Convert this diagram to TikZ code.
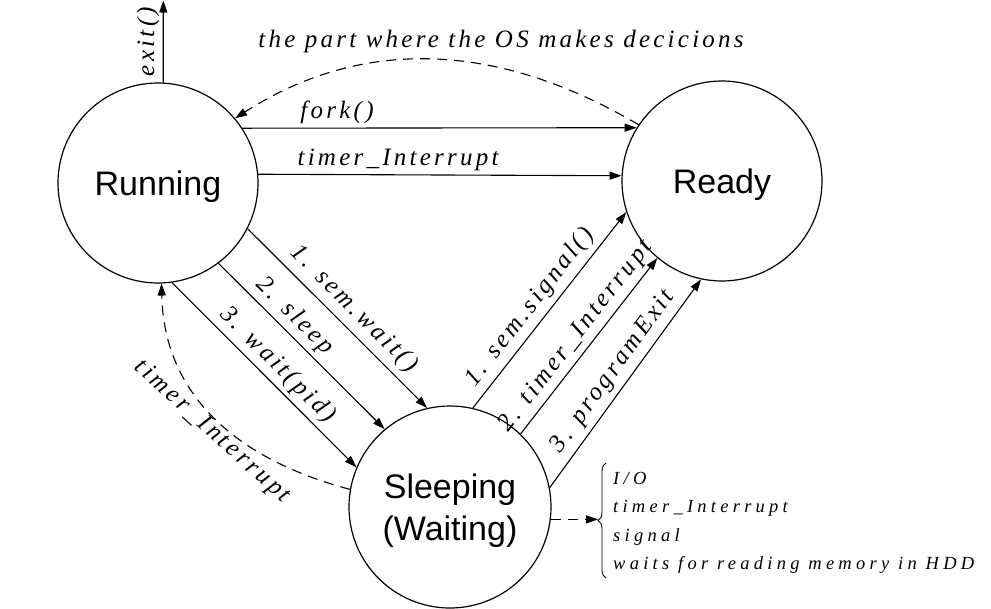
\documentclass[tikz,border=0pt]{standalone}
\usepackage{fontspec}
\setmainfont{Liberation Serif}
\newfontfamily\statefont{Liberation Sans}
\newfontfamily\lblfont[LetterSpace=13]{Liberation Serif Italic}
\newfontfamily\smfont[LetterSpace=23]{Liberation Serif Italic}
\usetikzlibrary{arrows.meta,decorations.pathreplacing,calc}
\begin{document}
\begin{tikzpicture}[x=1pt,y=-1pt,
  state/.style={circle, draw, line width=1.2pt, inner sep=0pt, text depth=0pt, font=\statefont\fontsize{34}{42}\selectfont, align=center},
  lbl/.style={font=\lblfont\fontsize{25}{28}\selectfont},
  sm/.style={font=\smfont\fontsize{18.5}{28.5}\selectfont},
  conn/.style={line width=1.1pt, -{Triangle[length=12pt,width=8pt]}},
  dsh/.style={conn, dash pattern=on 10pt off 7pt}]
\useasboundingbox (0,0) rectangle (991,608);
\node[state, minimum size=200pt] (run) at (158,183) {Running};
\node[state, minimum size=200pt] (ready) at (722,181) {Ready};
\node[state, minimum size=202pt] (sleep) at (450,507) {Sleeping\\(Waiting)};
\coordinate (exittop) at (163.3,0.5);
\draw[conn] (run.87) -- (exittop) node[midway, above, sloped, lbl] {exit()};
\draw[conn] (run.33) -- (ready.148) node[pos=0.24, above, lbl] {fork()};
\draw[conn] (run.5) -- (ready.177) node[pos=0.385, above, lbl] {timer\_Interrupt};
\draw[dsh] (ready.146) .. controls (495,40) and (360,38) .. (run.40);
\node[lbl, anchor=base] (title) at (501,47) {the part where the OS makes decicions};
\draw[conn] (run.-27.5) -- (sleep.103.8) node[pos=0.52, above=3pt, sloped, lbl] {1. sem.wait()};
\draw[conn] (run.-53) -- (sleep.130.4) node[pos=0.39, above=1pt, sloped, lbl] {2. sleep};
\draw[conn] (run.-82) -- (sleep.157.2) node[pos=0.51, above=1pt, sloped, lbl] {3. wait(pid)};
\draw[conn] (sleep.77) -- (ready.198) node[pos=0.46, above=2pt, sloped, lbl] {1. sem.signal()};
\draw[conn] (sleep.46) -- (ready.230) node[pos=0.5, above=1pt, sloped, lbl] {2. timer\_Interrupt};
\draw[conn] (sleep.11.5) -- (ready.258.6) node[pos=0.51, above=2pt, sloped, lbl] {3. programExit};
\draw[dsh] (sleep.170) .. controls (226.8,456.5) and (163.8,387.7) .. (run.-88);
\node[lbl, rotate=-42] (tlab) at (212,432) {timer\_Interrupt};
\node[sm, anchor=west, align=left, inner sep=0pt] (list) at (613,523) {I/O\\timer\_Interrupt\\signal\\waits for reading memory in HDD};
\coordinate (bt) at (598,520.5);
\draw[line width=0.9pt, decorate, decoration={brace, amplitude=8pt}] (606,578) -- (606,463);
\draw[dsh] (sleep.-7) -- (sleep.-7 -| bt);
\end{tikzpicture}
\end{document}
